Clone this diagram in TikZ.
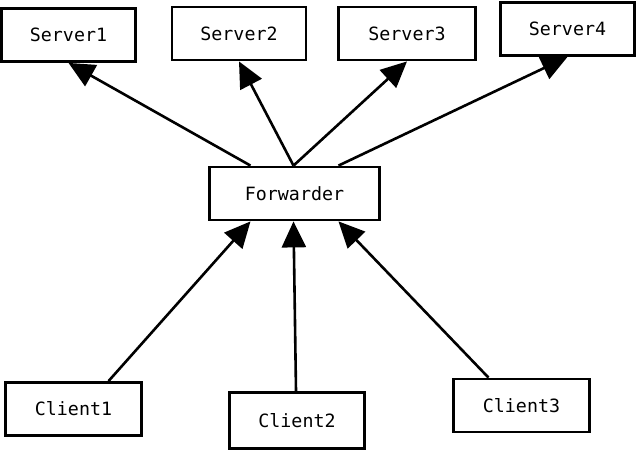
\documentclass[tikz,border=0pt]{standalone}
\usepackage{fontspec}
\setmonofont{DejaVu Sans Mono}
\usetikzlibrary{arrows.meta}
\tikzset{
  box/.style={draw, line width=2.8pt, minimum width=134pt, minimum height=53pt,
    inner sep=0pt, font=\ttfamily\fontsize{18.3}{20}\selectfont},
  link/.style={->, line width=2.6pt}
}

\begin{document}
\begin{tikzpicture}[x=1pt,y=-1pt,>={Triangle[length=26pt,width=24pt]}]
  \useasboundingbox (0,0) rectangle (639,451);

  \node[box] (S1) at (68.5,35)  {Server1};
  \node[box] (S2) at (239,33.5) {Server2};
  \node[box,minimum width=137pt] (S3) at (407,33.5) {Server3};
  \node[box] (S4) at (567.5,29) {Server4};
  \node[box,minimum width=170pt] (F) at (294.5,193.5) {Forwarder};
  \node[box,minimum width=136pt] (C1) at (73.5,409) {Client1};
  \node[box,minimum width=135pt,minimum height=56pt] (C2) at (297,420.5) {Client2};
  \node[box,minimum width=136pt] (C3) at (521.5,405.5) {Client3};

  \draw[link] ([xshift=-44pt]F.north) -- (S1.south);
  \draw[link] ([xshift=-1pt]F.north)  -- (S2.south);
  \draw[link] ([xshift=-1pt]F.north)  -- (S3.south);
  \draw[link] ([xshift=44pt]F.north)  -- (S4.south);

  \draw[link] ([xshift=35pt]C1.north)  -- ([xshift=-44pt]F.south);
  \draw[link] ([xshift=-1pt]C2.north)  -- ([xshift=-1pt]F.south);
  \draw[link] ([xshift=-33pt]C3.north) -- ([xshift=44pt]F.south);
\end{tikzpicture}
\end{document}
